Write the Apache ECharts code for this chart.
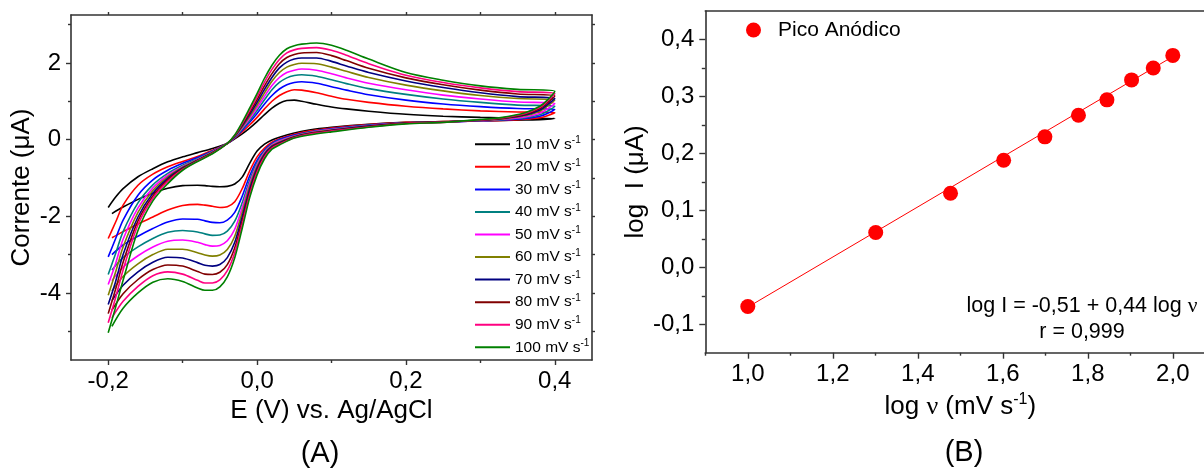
<!DOCTYPE html>
<html><head><meta charset="utf-8">
<script src="https://cdn.jsdelivr.net/npm/echarts@6/dist/echarts.min.js"></script>
<style>html,body{margin:0;padding:0;background:#fff}#c{width:1204px;height:470px}</style>
</head><body><div id="c"></div>
<script>
const FONT = '"Liberation Sans", Arial, sans-serif';

// ---------- Panel A: cyclic voltammograms ----------
const scanNames = ['10 mV s-1','20 mV s-1','30 mV s-1','40 mV s-1','50 mV s-1','60 mV s-1','70 mV s-1','80 mV s-1','90 mV s-1','100 mV s-1'];
const scanColors = ['#000000','#FF0000','#0000FF','#008080','#FF00FF','#808000','#000080','#800000','#FF0080','#008000'];

// forward (anodic) sweep potentials, V
const E_fwd = [-0.2,-0.19,-0.18,-0.16,-0.14,-0.12,-0.10,-0.08,-0.06,-0.04,-0.03,-0.02,-0.01,0.00,0.01,0.02,0.03,0.04,0.05,0.06,0.08,0.10,0.12,0.15,0.20,0.25,0.30,0.35,0.40];
// reverse (cathodic) sweep potentials, V
const E_rev = [0.39,0.38,0.36,0.33,0.30,0.25,0.20,0.15,0.10,0.07,0.05,0.03,0.02,0.01,0.00,-0.01,-0.02,-0.03,-0.04,-0.05,-0.06,-0.07,-0.08,-0.10,-0.12,-0.14,-0.16,-0.18,-0.195];

// currents, µA
const fwd10  = [-1.77,-1.50,-1.28,-0.97,-0.76,-0.58,-0.45,-0.34,-0.23,-0.10,0.02,0.15,0.30,0.47,0.65,0.82,0.95,1.02,1.03,1.00,0.92,0.85,0.80,0.74,0.66,0.61,0.58,0.56,0.55];
const fwd20  = [-2.58,-2.15,-1.71,-1.19,-0.90,-0.71,-0.57,-0.44,-0.28,-0.10,0.04,0.20,0.38,0.58,0.80,1.00,1.15,1.25,1.30,1.29,1.22,1.13,1.05,0.97,0.87,0.80,0.75,0.72,0.70];
const fwd30  = [-3.06,-2.58,-2.10,-1.45,-1.05,-0.80,-0.62,-0.47,-0.30,-0.10,0.05,0.24,0.45,0.68,0.93,1.15,1.32,1.43,1.49,1.51,1.47,1.38,1.29,1.17,1.03,0.93,0.86,0.81,0.79];
const fwd40  = [-3.52,-2.97,-2.40,-1.65,-1.18,-0.88,-0.67,-0.50,-0.31,-0.10,0.06,0.27,0.50,0.76,1.04,1.30,1.49,1.61,1.67,1.69,1.65,1.56,1.46,1.33,1.18,1.06,0.97,0.90,0.87];
const fwd50  = [-3.78,-3.23,-2.60,-1.78,-1.26,-0.93,-0.70,-0.52,-0.32,-0.10,0.07,0.30,0.55,0.83,1.13,1.41,1.62,1.75,1.81,1.84,1.81,1.72,1.61,1.47,1.30,1.16,1.06,0.98,0.94];
const fwd60  = [-4.06,-3.45,-2.80,-1.90,-1.33,-0.97,-0.72,-0.53,-0.33,-0.10,0.08,0.33,0.60,0.90,1.22,1.52,1.75,1.89,1.96,1.99,1.98,1.89,1.78,1.62,1.42,1.27,1.15,1.07,1.03];
const fwd70  = [-4.30,-3.70,-3.00,-2.02,-1.40,-1.01,-0.74,-0.54,-0.34,-0.10,0.09,0.36,0.65,0.97,1.31,1.62,1.87,2.02,2.10,2.13,2.13,2.04,1.92,1.75,1.53,1.36,1.22,1.12,1.07];
const fwd80  = [-4.54,-3.90,-3.20,-2.12,-1.47,-1.05,-0.76,-0.55,-0.35,-0.10,0.10,0.39,0.70,1.04,1.40,1.72,1.98,2.14,2.22,2.26,2.27,2.19,2.06,1.86,1.61,1.43,1.29,1.19,1.14];
const fwd90  = [-4.78,-4.12,-3.40,-2.22,-1.53,-1.09,-0.78,-0.56,-0.36,-0.10,0.11,0.42,0.76,1.12,1.50,1.83,2.09,2.26,2.34,2.38,2.40,2.33,2.20,1.98,1.68,1.49,1.35,1.25,1.20];
const fwd100 = [-5.04,-4.37,-3.67,-2.37,-1.60,-1.15,-0.80,-0.57,-0.37,-0.10,0.12,0.45,0.82,1.20,1.60,1.94,2.20,2.37,2.45,2.49,2.52,2.46,2.33,2.10,1.75,1.55,1.40,1.31,1.26];

const rev10  = [0.53,0.52,0.51,0.50,0.49,0.47,0.45,0.40,0.32,0.25,0.17,0.06,-0.01,-0.12,-0.30,-0.62,-0.98,-1.16,-1.22,-1.23,-1.22,-1.20,-1.19,-1.20,-1.27,-1.40,-1.56,-1.76,-1.93];
const rev20  = [0.62,0.57,0.53,0.50,0.49,0.47,0.45,0.39,0.30,0.22,0.14,0.02,-0.07,-0.22,-0.45,-0.82,-1.28,-1.62,-1.75,-1.77,-1.74,-1.71,-1.69,-1.72,-1.84,-2.02,-2.20,-2.40,-2.56];
const rev30  = [0.68,0.61,0.55,0.51,0.49,0.46,0.44,0.38,0.28,0.20,0.12,0.00,-0.10,-0.27,-0.54,-0.95,-1.48,-1.90,-2.10,-2.17,-2.16,-2.12,-2.08,-2.07,-2.15,-2.32,-2.52,-2.75,-3.00];
const rev40  = [0.74,0.65,0.57,0.52,0.49,0.46,0.44,0.37,0.27,0.19,0.10,-0.02,-0.12,-0.30,-0.60,-1.06,-1.65,-2.13,-2.39,-2.49,-2.50,-2.46,-2.41,-2.37,-2.42,-2.58,-2.80,-3.08,-3.40];
const rev50  = [0.80,0.69,0.59,0.53,0.49,0.46,0.43,0.36,0.26,0.18,0.09,-0.04,-0.14,-0.33,-0.65,-1.14,-1.78,-2.34,-2.64,-2.76,-2.78,-2.74,-2.68,-2.62,-2.65,-2.80,-3.03,-3.33,-3.68];
const rev60  = [0.87,0.74,0.62,0.54,0.50,0.46,0.43,0.35,0.25,0.17,0.08,-0.06,-0.16,-0.36,-0.70,-1.22,-1.90,-2.52,-2.87,-3.01,-3.04,-3.01,-2.95,-2.86,-2.86,-3.00,-3.24,-3.57,-3.95];
const rev70  = [0.91,0.77,0.64,0.55,0.50,0.46,0.43,0.35,0.24,0.16,0.07,-0.08,-0.18,-0.39,-0.75,-1.30,-2.02,-2.68,-3.08,-3.26,-3.30,-3.28,-3.21,-3.09,-3.07,-3.20,-3.45,-3.80,-4.20];
const rev80  = [0.96,0.81,0.66,0.56,0.51,0.46,0.43,0.34,0.23,0.15,0.06,-0.10,-0.20,-0.42,-0.80,-1.38,-2.12,-2.82,-3.26,-3.46,-3.52,-3.51,-3.44,-3.30,-3.27,-3.39,-3.65,-4.02,-4.45];
const rev90  = [1.00,0.84,0.68,0.57,0.51,0.45,0.42,0.33,0.22,0.14,0.05,-0.12,-0.22,-0.45,-0.85,-1.45,-2.22,-2.95,-3.42,-3.66,-3.74,-3.74,-3.67,-3.51,-3.45,-3.55,-3.83,-4.22,-4.65];
const rev100 = [1.03,0.87,0.70,0.58,0.52,0.45,0.41,0.32,0.20,0.12,0.04,-0.14,-0.25,-0.50,-0.92,-1.52,-2.32,-3.08,-3.58,-3.84,-3.93,-3.93,-3.87,-3.70,-3.63,-3.72,-4.00,-4.40,-4.87];

const fwdAll = [fwd10,fwd20,fwd30,fwd40,fwd50,fwd60,fwd70,fwd80,fwd90,fwd100];
const revAll = [rev10,rev20,rev30,rev40,rev50,rev60,rev70,rev80,rev90,rev100];

const aXTicks = [-0.2, 0, 0.2, 0.4];
const aXMinor = [-0.1, 0.1, 0.3];
const aXAll   = [-0.2,-0.1,0,0.1,0.2,0.3,0.4];
const aYTicks = [-4, -2, 0, 2];
const aYMinor = [-5, -3, -1, 1, 3];
const aYAll   = [-5,-4,-3,-2,-1,0,1,2,3];

// ---------- Panel B: log I vs log v ----------
const logV = [1.000, 1.301, 1.477, 1.602, 1.699, 1.778, 1.845, 1.903, 1.954, 2.000];
const logI = [-0.069, 0.061, 0.130, 0.188, 0.229, 0.267, 0.294, 0.329, 0.350, 0.372];
const fitX = [1.0, 2.0];
const fitY = [-0.07, 0.37];

const bXTicks = [1.0, 1.2, 1.4, 1.6, 1.8, 2.0];
const bXMinor = [0.9, 1.1, 1.3, 1.5, 1.7, 1.9];
const bYTicks = [-0.1, 0, 0.1, 0.2, 0.3, 0.4];
const bYMinor = [-0.05, 0.05, 0.15, 0.25, 0.35];

// ---------- helpers ----------
const AX = '#333';
const TXT = '#000';
const NAME_FS = 26;
const TICK_FS = 24;
const dec = v => (Math.abs(v) < 1e-9 ? 0 : v).toFixed(1).replace('.', ',');
const supRich = (fs) => ({
  t: {fontFamily: FONT, fontSize: fs, color: TXT, lineHeight: Math.round(fs*1.2)},
  nu: {fontFamily: '"Liberation Serif", "DejaVu Serif", serif', fontSize: fs, color: TXT, lineHeight: Math.round(fs*1.2)},
  sup: {fontFamily: FONT, fontSize: Math.round(fs*0.6), color: TXT, lineHeight: Math.round(fs*0.6), verticalAlign: 'top'}
});

const LINE_ON = {show: true, onZero: false, lineStyle: {color: AX, width: 1.6}};
const LINE_OFF = {show: false, onZero: false};

function axis(o) {
  return Object.assign({
    type: 'value', splitLine: {show: false},
    axisLine: LINE_ON,
    axisTick: {show: false}, axisLabel: {show: false}
  }, o);
}

const xAxes = [
  axis({gridIndex: 0, position: 'bottom', min: -0.25, max: 0.45,
    axisTick: {show: true, length: 5, lineStyle: {color: AX, width: 1.4}, customValues: aXTicks},
    axisLabel: {show: true, customValues: aXTicks, formatter: dec, margin: 9, fontFamily: FONT, fontSize: TICK_FS, color: TXT},
    name: 'E (V) vs. Ag/AgCl', nameLocation: 'middle', nameGap: 35,
    nameTextStyle: {fontFamily: FONT, fontSize: NAME_FS, color: TXT}}),
  axis({gridIndex: 0, position: 'bottom', min: -0.25, max: 0.45, axisLine: LINE_OFF,
    axisTick: {show: true, length: 3, lineStyle: {color: AX, width: 1.4}, customValues: aXMinor}}),
  axis({gridIndex: 0, position: 'top', min: -0.25, max: 0.45,
    axisTick: {show: true, length: 3, lineStyle: {color: AX, width: 1.4}, customValues: aXAll}}),
  axis({gridIndex: 1, position: 'bottom', min: 0.9, max: 2.1,
    axisTick: {show: true, length: 6, lineStyle: {color: AX, width: 1.4}, customValues: bXTicks},
    axisLabel: {show: true, customValues: bXTicks, formatter: dec, margin: 10, fontFamily: FONT, fontSize: TICK_FS, color: TXT},
    name: '{t|log }{nu|ν}{t| (mV s}{sup|-1}{t|)}', nameLocation: 'middle', nameGap: 39,
    nameTextStyle: {fontFamily: FONT, fontSize: NAME_FS, color: TXT, rich: supRich(NAME_FS)}}),
  axis({gridIndex: 1, position: 'bottom', min: 0.9, max: 2.1, axisLine: LINE_OFF,
    axisTick: {show: true, length: 3, lineStyle: {color: AX, width: 1.4}, customValues: bXMinor}}),
  axis({gridIndex: 1, position: 'top', min: 0.9, max: 2.1})
];

const yAxes = [
  axis({gridIndex: 0, position: 'left', min: -5.75, max: 3.25,
    axisTick: {show: true, length: 5, lineStyle: {color: AX, width: 1.4}, customValues: aYTicks},
    axisLabel: {show: true, customValues: aYTicks, formatter: v => String(Math.round(v)), margin: 10, fontFamily: FONT, fontSize: TICK_FS, color: TXT},
    name: 'Corrente (μA)', nameLocation: 'middle', nameGap: 36,
    nameTextStyle: {fontFamily: FONT, fontSize: NAME_FS, color: TXT}}),
  axis({gridIndex: 0, position: 'left', min: -5.75, max: 3.25, axisLine: LINE_OFF,
    axisTick: {show: true, length: 3, lineStyle: {color: AX, width: 1.4}, customValues: aYMinor}}),
  axis({gridIndex: 0, position: 'right', min: -5.75, max: 3.25,
    axisTick: {show: true, length: 3, lineStyle: {color: AX, width: 1.4}, customValues: aYAll}}),
  axis({gridIndex: 1, position: 'left', min: -0.15, max: 0.45,
    axisTick: {show: true, length: 6, lineStyle: {color: AX, width: 1.4}, customValues: bYTicks},
    axisLabel: {show: true, customValues: bYTicks, formatter: dec, margin: 11, fontFamily: FONT, fontSize: TICK_FS, color: TXT},
    name: 'log  I (μA)', nameLocation: 'middle', nameGap: 52,
    nameTextStyle: {fontFamily: FONT, fontSize: NAME_FS, color: TXT}}),
  axis({gridIndex: 1, position: 'left', min: -0.15, max: 0.45, axisLine: LINE_OFF,
    axisTick: {show: true, length: 3.5, lineStyle: {color: AX, width: 1.4}, customValues: bYMinor}}),
  axis({gridIndex: 1, position: 'right', min: -0.15, max: 0.45})
];

const series = scanNames.map((name, i) => ({
  type: 'line', name, xAxisIndex: 0, yAxisIndex: 0,
  data: E_fwd.map((e, k) => [e, fwdAll[i][k]]).concat(E_rev.map((e, k) => [e, revAll[i][k]])),
  smooth: 0.3, showSymbol: false, symbol: 'none',
  lineStyle: {color: scanColors[i], width: 1.6}, itemStyle: {color: scanColors[i]},
  z: 2 + i
}));
series.push({
  type: 'line', name: 'Ajuste linear', xAxisIndex: 3, yAxisIndex: 3,
  data: fitX.map((x, k) => [x, fitY[k]]), showSymbol: false, symbol: 'none',
  lineStyle: {color: '#FF0000', width: 1}, z: 3
});
series.push({
  type: 'scatter', name: 'Pico Anódico', xAxisIndex: 3, yAxisIndex: 3,
  data: logV.map((x, k) => [x, logI[k]]), symbol: 'circle', symbolSize: 15,
  itemStyle: {color: '#FF0000', opacity: 1}, z: 4
});

const option = {
  animation: false,
  backgroundColor: '#ffffff',
  grid: [
    {left: 71, top: 15, width: 521, height: 345, outerBoundsMode: 'none', containLabel: false},
    {left: 705.3, top: 11, width: 510, height: 341.7, outerBoundsMode: 'none', containLabel: false}
  ],
  xAxis: xAxes,
  yAxis: yAxes,
  legend: [
    {data: scanNames, orient: 'vertical', left: 475, top: 135.3, icon: 'rect', itemWidth: 35, itemHeight: 2,
     itemGap: 5.55, padding: 0, selectedMode: false,
     formatter: n => '{n|' + n.replace(/-1$/, '') + '}{sup|-1}',
     textStyle: {rich: {
       n: {fontFamily: FONT, fontSize: 15.5, color: TXT, lineHeight: 18},
       sup: {fontFamily: FONT, fontSize: 10, color: TXT, lineHeight: 10, verticalAlign: 'top'}}}},
    {data: ['Pico Anódico'], left: 746, top: 19.5, icon: 'circle', itemWidth: 15, itemHeight: 15,
     padding: 0, selectedMode: false,
     formatter: n => '{a|' + n + '}',
     textStyle: {rich: {a: {fontFamily: FONT, fontSize: 21, color: TXT, lineHeight: 24, padding: [0, 0, 0, 12]}}}}
  ],
  graphic: [
    {type: 'text', x: 1082, y: 319, style: {
      text: '{t|log I = -0,51 + 0,44 log }{nu|ν}\n{t|r = 0,999}',
      align: 'center', verticalAlign: 'middle',
      rich: {t: {fontFamily: FONT, fontSize: 21.5, color: TXT, lineHeight: 26},
             nu: {fontFamily: '"Liberation Serif", serif', fontSize: 21.5, color: TXT, lineHeight: 26}}}},
    {type: 'text', x: 320, y: 454, style: {text: '(A)', fontFamily: FONT, fontSize: 29, fill: TXT, align: 'center', verticalAlign: 'middle'}},
    {type: 'text', x: 964, y: 453, style: {text: '(B)', fontFamily: FONT, fontSize: 29, fill: TXT, align: 'center', verticalAlign: 'middle'}}
  ],
  series
};

const chart = echarts.init(document.getElementById('c'), null, {renderer: 'canvas'});
chart.setOption(option);
</script></body></html>
